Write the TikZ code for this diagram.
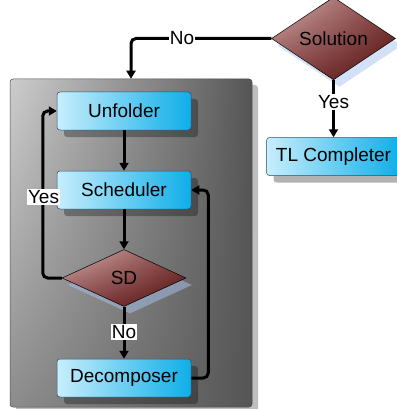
\documentclass[tikz,border=0pt]{standalone}
\usepackage{fontspec}
\setmainfont{Liberation Sans}
\usetikzlibrary{shapes.geometric,arrows.meta,shadows,shadings}
\definecolor{boxL}{RGB}{200,238,252}
\definecolor{boxR}{RGB}{14,174,232}
\definecolor{boxB}{RGB}{40,80,110}
\definecolor{decUL}{RGB}{215,180,180}
\definecolor{decM}{RGB}{135,65,65}
\definecolor{decLR}{RGB}{80,15,15}
\definecolor{grpL}{RGB}{205,205,205}
\definecolor{grpR}{RGB}{85,85,85}
\definecolor{dshadow}{RGB}{165,195,235}
\begin{document}
\begin{tikzpicture}[x=1pt,y=-1pt,
  proc/.style={rectangle, rounded corners=3pt, draw=boxB, line width=0.5pt,
    minimum width=134pt, minimum height=38pt, inner sep=0pt,
    left color=boxL, right color=boxR,
    font=\fontsize{19}{21}\selectfont,
    drop shadow={shadow xshift=7pt, shadow yshift=-7pt, fill=black, opacity=0.3}},
  dec/.style={diamond, draw=black, line width=0.5pt,
    minimum width=124pt, minimum height=57pt, inner sep=0pt,
    upper left=decUL, upper right=decM, lower left=decM, lower right=decLR,
    font=\fontsize{19}{21}\selectfont, text=black,
    drop shadow={shadow xshift=6pt, shadow yshift=-7pt, fill=dshadow, opacity=0.5}},
  grp/.style={rectangle, rounded corners=3pt, draw=black!70, line width=0.5pt,
    minimum width=242pt, minimum height=328pt, inner sep=0pt,
    upper left=grpL, upper right=grpR, lower left=black!45, lower right=grpR,
    drop shadow={shadow xshift=6pt, shadow yshift=-6pt, fill=black!25, opacity=1}},
  flow/.style={line width=3pt, rounded corners=5pt, -{Triangle[length=8pt,width=9pt]}},
  lab/.style={fill=white, inner sep=1pt, font=\fontsize{19}{21}\selectfont}]
\useasboundingbox (0,0) rectangle (396,409);

\node[grp] (group) at (131,243) {};

\node[proc] (unf) at (124,111) {Unfolder};
\node[proc] (sch) at (124,190) {Scheduler};
\node[dec]  (sd)  at (124,278) {SD};
\node[proc] (dcp) at (124,378) {Decomposer};
\node[dec]  (sol) at (333.5,38.5) {Solution};
\node[proc] (tl)  at (333.5,156.5) {TL Completer};

\draw[flow] (sol.west) -| (group.north);
\node[lab] (nolab1) at (182,38) {No};

\draw[flow] (sol.south) -- (tl.north);
\node[lab] (yeslab1) at (333.5,102) {Yes};

\draw[flow] (unf.south) -- (sch.north);
\draw[flow] (sch.south) -- (sd.north);
\draw[flow] (sd.south) -- (dcp.north);
\node[lab] (nolab2) at (124,332) {No};

\draw[flow] (sd.west) -- ++(-19,0) |- (unf.west);
\node[lab] (yeslab2) at (43.5,197) {Yes};

\draw[flow] (dcp.east) -- ++(17,0) |- (sch.east);
\end{tikzpicture}
\end{document}
